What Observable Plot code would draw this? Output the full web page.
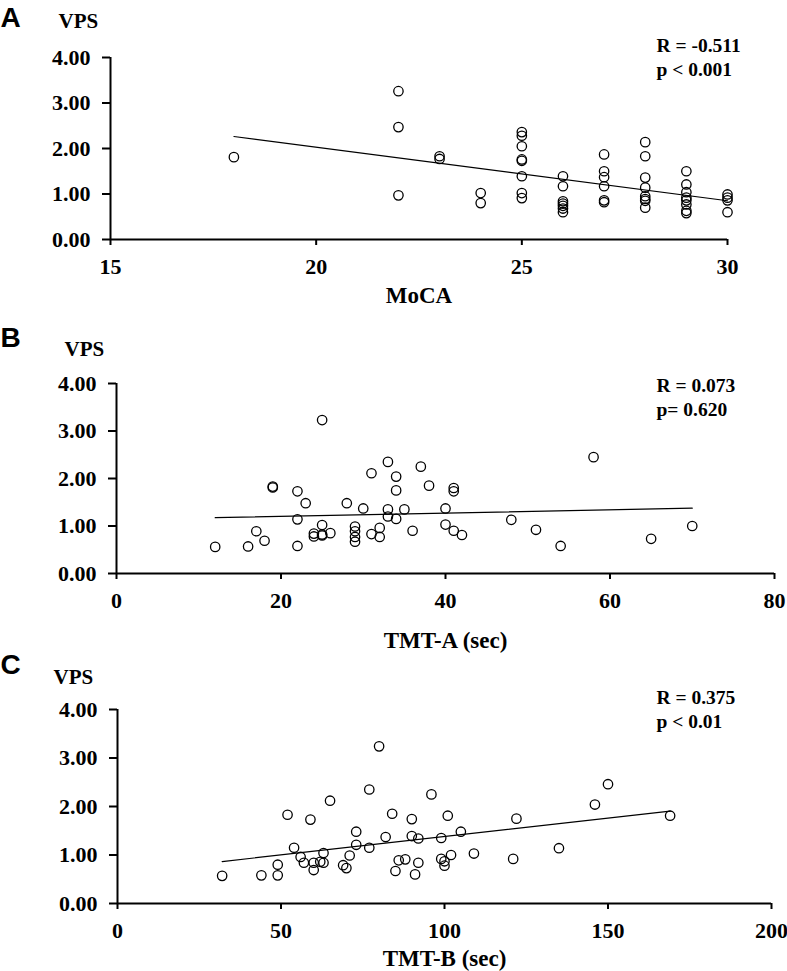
<!DOCTYPE html>
<html><head><meta charset="utf-8">
<script src="https://cdn.jsdelivr.net/npm/d3@7"></script>
<script src="https://cdn.jsdelivr.net/npm/@observablehq/plot@0.6"></script>
<style>body{margin:0;background:#fff} #chart{width:787px} #chart svg{display:block}</style>
</head><body><div id="chart"></div>
<script>
// ---------- Data ----------
const yTicks = [0, 1, 2, 3, 4];

// Panel A: MoCA vs VPS
const mocaTicks = [15, 20, 25, 30];
const mocaX = [18,
  22, 22, 22,
  23, 23,
  24, 24,
  25, 25, 25, 25, 25, 25, 25, 25,
  26, 26, 26, 26, 26, 26, 26,
  27, 27, 27, 27, 27, 27,
  28, 28, 28, 28, 28, 28, 28, 28,
  29, 29, 29, 29, 29, 29, 29, 29,
  30, 30, 30, 30];
const mocaVPS = [1.81,
  3.26, 2.47, 0.97,
  1.83, 1.77,
  1.02, 0.80,
  2.36, 2.28, 2.05, 1.76, 1.73, 1.39, 1.02, 0.91,
  1.39, 1.17, 0.84, 0.79, 0.74, 0.68, 0.60,
  1.87, 1.50, 1.37, 1.17, 0.86, 0.82,
  2.14, 1.83, 1.36, 1.14, 0.95, 0.89, 0.85, 0.70,
  1.50, 1.21, 1.04, 0.92, 0.86, 0.77, 0.63, 0.58,
  0.99, 0.92, 0.86, 0.60];

// Panel B: TMT-A vs VPS
const tmtATicks = [0, 20, 40, 60, 80];
const tmtAX = [12, 16, 17, 18, 19, 19, 22, 22, 22, 23, 24, 24, 25, 25, 25, 25, 26, 28,
  29, 29, 29, 29, 30, 31, 31, 32, 32, 33, 33, 33, 34, 34, 34, 35, 36, 37, 38,
  40, 40, 41, 41, 41, 42, 48, 51, 54, 58, 65, 70];
const tmtAVPS = [0.56, 0.57, 0.89, 0.69, 1.83, 1.81, 1.73, 1.14, 0.58, 1.48, 0.84, 0.78, 3.23, 1.02, 0.82, 0.80, 0.85, 1.48,
  0.99, 0.89, 0.77, 0.67, 1.37, 2.11, 0.83, 0.96, 0.77, 2.35, 1.35, 1.20, 2.04, 1.75, 1.15, 1.35, 0.90, 2.25, 1.85,
  1.37, 1.03, 1.80, 1.73, 0.90, 0.81, 1.13, 0.92, 0.58, 2.45, 0.73, 1.00];

// Panel C: TMT-B vs VPS
const tmtBTicks = [0, 50, 100, 150, 200];
const tmtBX = [32, 44, 49, 49, 52, 54, 56, 57, 59, 60, 60, 62, 63, 63, 65, 69, 70, 71, 73, 73,
  77, 77, 80, 82, 84, 85, 86, 88, 90, 90, 91, 92, 92, 96, 99, 99, 100, 100, 101, 102,
  105, 109, 121, 122, 135, 146, 150, 169];
const tmtBVPS = [0.57, 0.58, 0.80, 0.58, 1.83, 1.15, 0.96, 0.84, 1.73, 0.84, 0.69, 0.86, 1.04, 0.84, 2.12, 0.79, 0.73, 0.99, 1.48, 1.21,
  2.35, 1.15, 3.24, 1.37, 1.85, 0.67, 0.89, 0.91, 1.74, 1.39, 0.60, 1.34, 0.84, 2.25, 1.35, 0.92, 0.87, 0.78, 1.81, 1.00,
  1.48, 1.03, 0.92, 1.75, 1.14, 2.04, 2.46, 1.81];

// ---------- Drawing ----------
const serif = "'Liberation Serif', 'Times New Roman', serif";
const sans = "'Liberation Sans', Arial, sans-serif";

function panel(o) {
  const data = o.xs.map((x, i) => ({x, y: o.ys[i]}));
  const x0 = o.domain[0];
  const txt = (s, opts) => Plot.text([s], {text: d => d, frameAnchor: "top-left", textAnchor: "start",
    lineAnchor: "bottom", fontFamily: serif, fontWeight: "bold", fill: "black", ...opts});
  return Plot.plot({
    width: 787, height: o.height,
    marginLeft: o.ml, marginRight: o.mr, marginTop: o.mt, marginBottom: o.mb,
    style: {fontFamily: serif, fontWeight: "bold", background: "white", color: "black", overflow: "visible"},
    x: {domain: o.domain, label: null},
    y: {domain: [0, 4], label: null},
    marks: [
      Plot.axisX({ticks: o.ticks, tickFormat: d => String(d), tickSize: 6, tickPadding: 13, fontSize: 22,
        strokeWidth: 2, label: null}),
      Plot.axisY({ticks: yTicks, tickFormat: d3.format(".2f"), tickSize: 8, tickPadding: 12, fontSize: 22,
        strokeWidth: 2, label: null}),
      Plot.ruleY([0], {stroke: "black", strokeWidth: 2}),
      Plot.ruleX([x0], {y1: 0, y2: 4, stroke: "black", strokeWidth: 2}),
      Plot.linearRegressionY(data, {x: "x", y: "y", ci: 0, stroke: "black", strokeWidth: 1.2}),
      Plot.dot(data, {x: "x", y: "y", r: 4.7, stroke: "black", strokeWidth: 1.3, fill: "none"}),
      txt(o.letter, {dx: -o.ml, dy: o.letterDy, fontFamily: sans, fontSize: 28}),
      txt("VPS", {dx: o.vpsDx, dy: o.vpsDy, fontSize: 21}),
      txt(o.r, {dx: o.rDx, dy: o.rDy, fontSize: 19.5}),
      txt(o.p, {dx: o.rDx, dy: o.rDy + 24, fontSize: 19.5}),
      Plot.text([o.xlabel], {text: d => d, frameAnchor: "bottom", lineAnchor: "bottom", dy: o.xlabelDy,
        fontSize: 23, fontFamily: serif, fontWeight: "bold", fill: "black"})
    ]
  });
}

const chart = document.getElementById("chart");
chart.append(panel({
  xs: mocaX, ys: mocaVPS, domain: [15, 30], ticks: mocaTicks,
  height: 320, ml: 110, mr: 60, mt: 57, mb: 81,
  letter: "A", letterDy: -31, vpsDx: -52, vpsDy: -30,
  r: "R = -0.511", p: "p < 0.001", rDx: 546, rDy: -6,
  xlabel: "MoCA", xlabelDy: 63
}));
chart.append(panel({
  xs: tmtAX, ys: tmtAVPS, domain: [0, 80], ticks: tmtATicks,
  height: 335, ml: 116, mr: 13, mt: 63, mb: 82,
  letter: "B", letterDy: -37, vpsDx: -52, vpsDy: -28,
  r: "R = 0.073", p: "p= 0.620", rDx: 540, rDy: 8,
  xlabel: "TMT-A (sec)", xlabelDy: 74
}));
chart.append(panel({
  xs: tmtBX, ys: tmtBVPS, domain: [0, 200], ticks: tmtBTicks,
  height: 316, ml: 117, mr: 16, mt: 54, mb: 68,
  letter: "C", letterDy: -36, vpsDx: -64, vpsDy: -26,
  r: "R = 0.375", p: "p < 0.01", rDx: 539, rDy: -6,
  xlabel: "TMT-B (sec)", xlabelDy: 62
}));
</script>
</body></html>
